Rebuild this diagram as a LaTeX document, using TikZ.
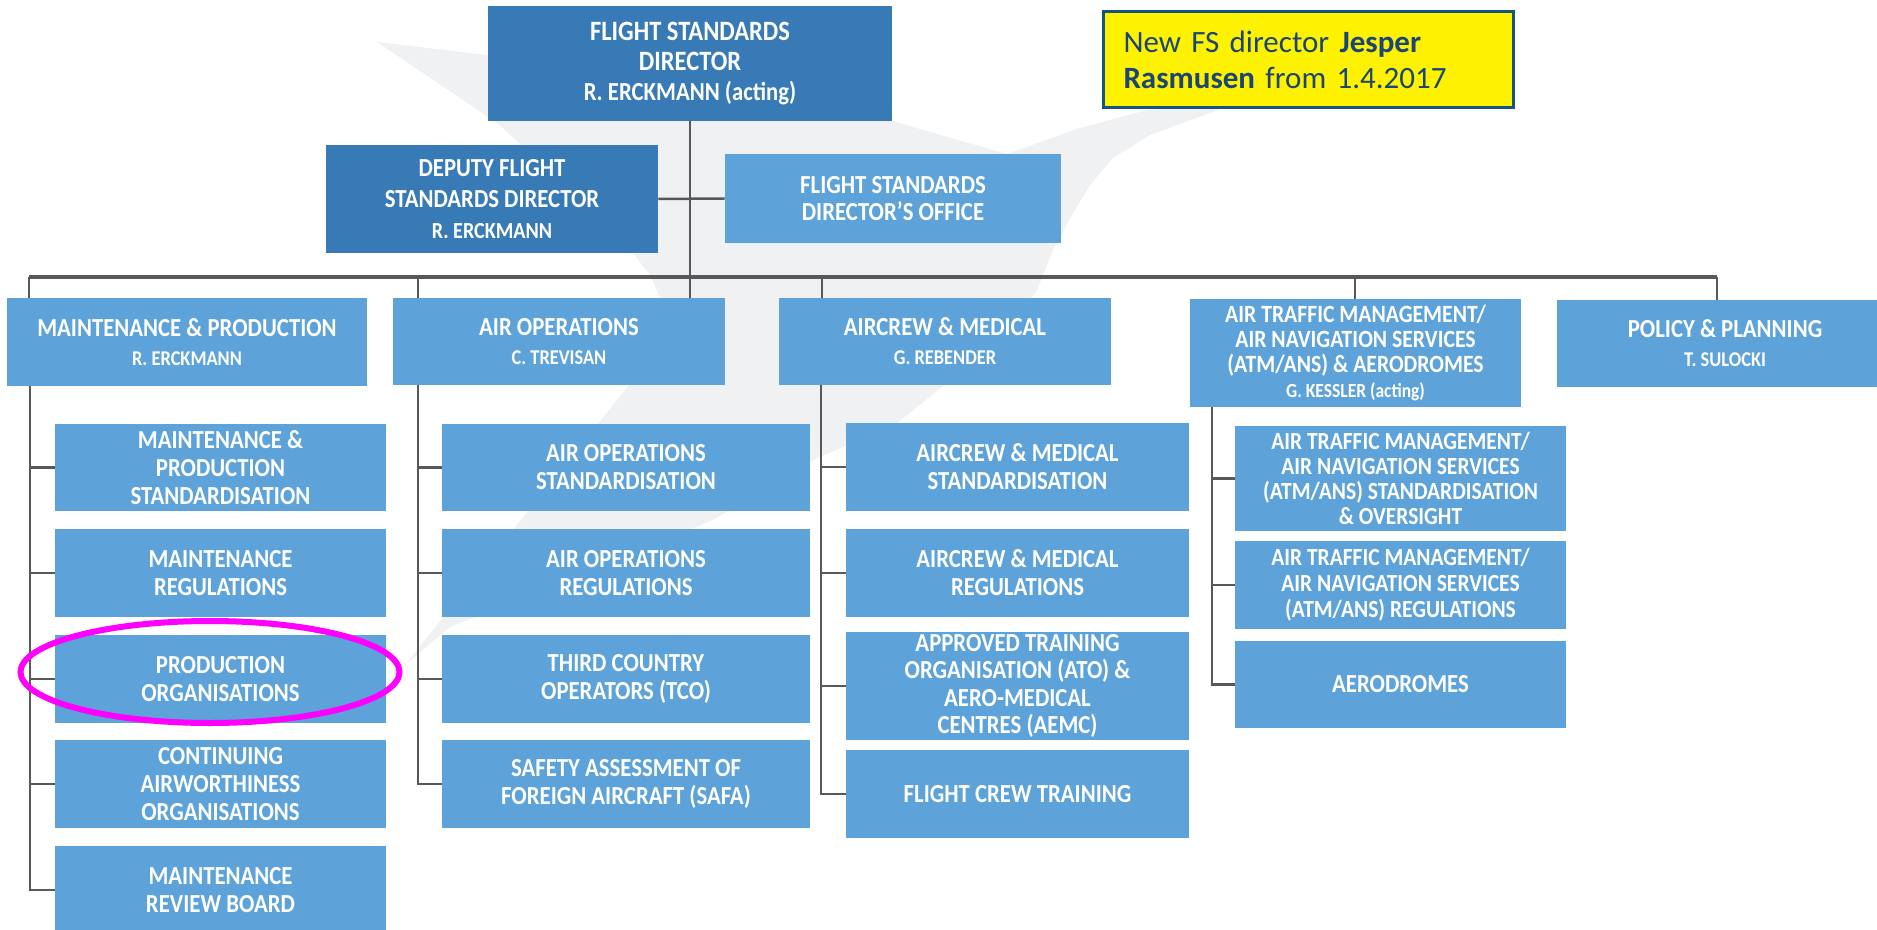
\documentclass[tikz,border=0pt]{standalone}
\usepackage{fontspec}
\usetikzlibrary{shapes.geometric,backgrounds}
\newfontfamily\bfnt{Carlito}[FakeStretch=0.875]
\newfontfamily\notefont{Carlito}
\definecolor{dkblue}{RGB}{55,122,181}
\definecolor{ltblue}{RGB}{93,163,218}
\definecolor{lnclr}{RGB}{88,88,88}
\definecolor{wmgray}{RGB}{239,241,243}
\definecolor{notetext}{RGB}{25,70,118}
\definecolor{noteborder}{RGB}{22,84,130}
\definecolor{hlmag}{RGB}{255,0,255}
\newcommand\bnode[7]{%
  \pgfmathsetmacro\bw{(#5-#3)*0.5}\pgfmathsetmacro\bh{(#6-#4)*0.5}%
  \pgfmathsetmacro\bcx{(#3+#5)/2}\pgfmathsetmacro\bcy{(#4+#6)/2}%
  \node[#1, minimum width=\bw pt, minimum height=\bh pt] (#2) at (\bcx,\bcy) {#7};}
\newcommand\subA{\fontsize{10.5}{14.5}\selectfont}
\tikzset{
  boxbase/.style={inner sep=0pt, align=center, text=white},
  dk/.style={boxbase, fill=dkblue},
  lb/.style={boxbase, fill=ltblue},
  ft/.style={font=\bfnt\bfseries\fontsize{13}{14}\selectfont},
  ftm/.style={font=\bfnt\bfseries\fontsize{13}{14.5}\selectfont},
  fts/.style={font=\bfnt\bfseries\fontsize{12.4}{12.4}\selectfont},
  conn/.style={draw=lnclr, line width=1.25pt},
  busline/.style={draw=lnclr, line width=1.7pt},
  notebox/.style={draw=noteborder, line width=1.5pt, fill=yellow, text=notetext,
    align=left, inner xsep=10pt, inner ysep=0pt, text width=185pt,
    minimum width=204pt, minimum height=48pt, font=\notefont\fontsize{15.5}{18}\selectfont},
  hilite/.style={draw=hlmag, line width=3pt, ellipse, inner sep=0pt,
    minimum width=189.5pt, minimum height=51pt},
}
\begin{document}
\begin{tikzpicture}[x=0.5pt,y=-0.5pt]
\useasboundingbox (0,0) rectangle (1877,930);
% top level
\bnode{dk,font=\bfnt\bfseries\fontsize{14}{15}\selectfont}{dir}{488}{6}{892}{121}{FLIGHT STANDARDS\\ DIRECTOR\\ {\fontsize{13}{15}\selectfont R. ERCKMANN (acting)}}
\bnode{dk,font=\bfnt\bfseries\fontsize{13}{15.3}\selectfont}{dep}{326}{145}{658}{253}{DEPUTY FLIGHT\\ STANDARDS DIRECTOR\\ {\fontsize{11.5}{15.3}\selectfont R. ERCKMANN}}
\bnode{lb,font=\bfnt\bfseries\fontsize{13}{13.75}\selectfont}{off}{725}{154}{1061}{243}{FLIGHT STANDARDS\\ DIRECTOR’S OFFICE}
% main row
\bnode{lb,ftm}{mp}{7}{298}{367}{386}{MAINTENANCE \& PRODUCTION\\ {\subA R. ERCKMANN}}
\bnode{lb,ftm}{aops}{393}{298}{725}{385}{AIR OPERATIONS\\ {\subA C. TREVISAN}}
\bnode{lb,ftm}{acm}{779}{298}{1111}{385}{AIRCREW \& MEDICAL\\ {\subA G. REBENDER}}
\bnode{lb,fts}{atm}{1190}{299}{1521}{407}{AIR TRAFFIC MANAGEMENT/\\ AIR NAVIGATION SERVICES\\ (ATM/ANS) \& AERODROMES\\ {\fontsize{10}{12.4}\selectfont G. KESSLER (acting)}}
\bnode{lb,ftm}{pol}{1557}{300}{1893}{387}{POLICY \& PLANNING\\ {\subA T. SULOCKI}}
% column 1
\bnode{lb,ft}{m1}{55}{424}{386}{511}{MAINTENANCE \&\\ PRODUCTION\\ STANDARDISATION}
\bnode{lb,ft}{m2}{55}{529}{386}{617}{MAINTENANCE\\ REGULATIONS}
\bnode{lb,ft}{m3}{55}{635}{386}{723}{PRODUCTION\\ ORGANISATIONS}
\bnode{lb,ft}{m4}{55}{740}{386}{828}{CONTINUING\\ AIRWORTHINESS\\ ORGANISATIONS}
\bnode{lb,ft}{m5}{55}{846}{386}{934}{MAINTENANCE\\ REVIEW BOARD}
% column 2
\bnode{lb,ft}{a1}{442}{424}{810}{511}{AIR OPERATIONS\\ STANDARDISATION}
\bnode{lb,ft}{a2}{442}{529}{810}{617}{AIR OPERATIONS\\ REGULATIONS}
\bnode{lb,ft}{a3}{442}{635}{810}{723}{THIRD COUNTRY\\ OPERATORS (TCO)}
\bnode{lb,ft}{a4}{442}{740}{810}{828}{SAFETY ASSESSMENT OF\\ FOREIGN AIRCRAFT (SAFA)}
% column 3
\bnode{lb,ft}{c1}{846}{423}{1189}{511}{AIRCREW \& MEDICAL\\ STANDARDISATION}
\bnode{lb,ft}{c2}{846}{529}{1189}{617}{AIRCREW \& MEDICAL\\ REGULATIONS}
\bnode{lb,font=\bfnt\bfseries\fontsize{13}{13.7}\selectfont}{c3}{846}{632}{1189}{740}{APPROVED TRAINING\\ ORGANISATION (ATO) \&\\ AERO-MEDICAL\\ CENTRES (AEMC)}
\bnode{lb,ft}{c4}{846}{750}{1189}{838}{FLIGHT CREW TRAINING}
% column 4
\bnode{lb,font=\bfnt\bfseries\fontsize{12.3}{12.5}\selectfont}{t1}{1235}{426}{1566}{531}{AIR TRAFFIC MANAGEMENT/\\ AIR NAVIGATION SERVICES\\ (ATM/ANS) STANDARDISATION\\ \& OVERSIGHT}
\bnode{lb,font=\bfnt\bfseries\fontsize{12.3}{13}\selectfont}{t2}{1235}{541}{1566}{629}{AIR TRAFFIC MANAGEMENT/\\ AIR NAVIGATION SERVICES\\ (ATM/ANS) REGULATIONS}
\bnode{lb,ft}{t3}{1235}{641}{1566}{728}{AERODROMES}
% note
\node[notebox] (note) at (1308.5,59.5) {New FS director \textbf{Jesper}\\ \textbf{Rasmusen} from 1.4.2017};
% highlight
\node[hilite] (hl) at (210,672) {};
% coordinates
\coordinate (busL) at (29,277);
\coordinate (busR) at (1717,277);
\coordinate (b2) at (418,277);
\coordinate (b3) at (822,277);
\coordinate (b4) at (1355,277);
\coordinate (s1) at (30,386);
\coordinate (s2) at (418,385);
\coordinate (s3) at (821,385);
\coordinate (s4) at (1212,407);
\begin{scope}[on background layer]
% watermark
\fill[wmgray] (377,42) -- (487,55) -- (892,100) -- (892,121) -- (1007,154)
  -- (1080,128) -- (1147,110) -- (1230,104) -- (1213,112)
  -- (1150,135) -- (1113,158) -- (1090,185) -- (1072,215) -- (1053,250)
  -- (1037,290) -- (1013,323) -- (980,355) -- (947,383) -- (897,423)
  -- (860,440) -- (813,460) -- (713,520) -- (580,575) -- (450,627) -- (405,665)
  -- (633,380) -- (655,330) -- (660,297) -- (650,275) -- (633,253)
  -- (560,180) -- (497,123) -- cycle;
% connectors
\draw[conn] (dir.south) -- (dir.south |- aops.north);
\draw[conn] (dep.east) -- (off.west);
\draw[busline] (busL) -- (busR);
\draw[conn] (busL) -- (busL |- mp.north);
\draw[conn] (b2) -- (b2 |- aops.north);
\draw[conn] (b3) -- (b3 |- acm.north);
\draw[conn] (b4) -- (b4 |- atm.north);
\draw[conn] (busR) -- (busR |- pol.north);
\foreach \c in {m1,m2,m3,m4,m5} \draw[conn] (s1) |- (\c.west);
\foreach \c in {a1,a2,a3,a4} \draw[conn] (s2) |- (\c.west);
\foreach \c in {c1,c2,c3,c4} \draw[conn] (s3) |- (\c.west);
\foreach \c in {t1,t2,t3} \draw[conn] (s4) |- (\c.west);
\end{scope}
\end{tikzpicture}
\end{document}
